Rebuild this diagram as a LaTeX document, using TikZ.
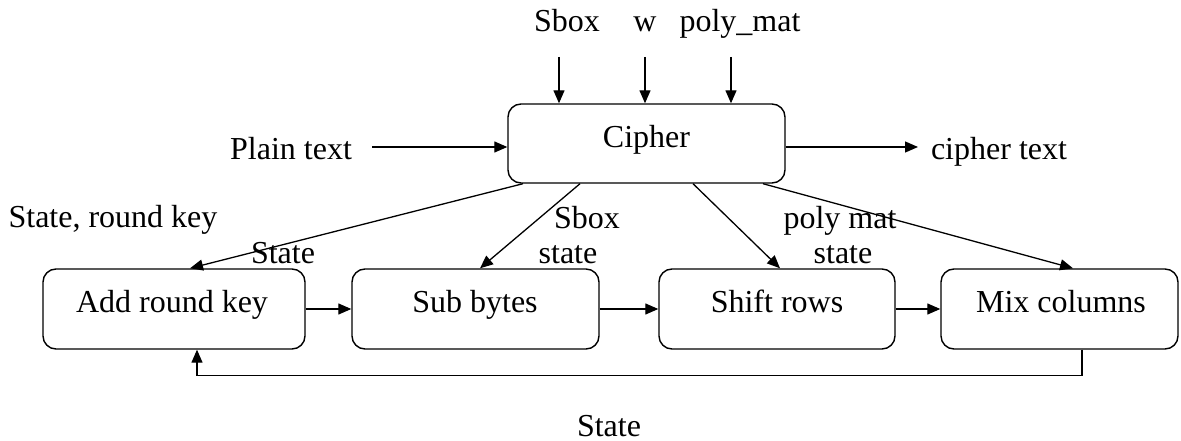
\documentclass[tikz,border=0pt]{standalone}
\usepackage{fontspec}
\setmainfont{Liberation Serif}
\usetikzlibrary{arrows.meta}
\begin{document}
\begin{tikzpicture}[x=1pt,y=-1pt,
  every node/.style={font=\fontsize{32}{36}\selectfont, inner sep=0pt},
  txt/.style={anchor=base},
  box/.style={draw, line width=1.4pt, rounded corners=13pt},
  arr/.style={line width=1.3pt, -{Triangle[length=13pt,width=11pt]}}]
\useasboundingbox (0,0) rectangle (1181,441);
% Cipher
\node[box, minimum width=277, minimum height=79] (cipher) at (646.5,143.5) {};
\node[txt] (ciphert) at (646.5,148) {Cipher};
% bottom boxes
\node[box, minimum width=262, minimum height=80] (add) at (174,309) {};
\node[txt] (addt) at (172,312) {Add round key};
\node[box, minimum width=247, minimum height=80] (sub) at (475.5,309) {};
\node[txt] (subt) at (475,312) {Sub bytes};
\node[box, minimum width=236, minimum height=80] (shift) at (777,309) {};
\node[txt] (shiftt) at (777,312) {Shift rows};
\node[box, minimum width=237, minimum height=80] (mix) at (1059.5,309) {};
\node[txt] (mixt) at (1061,312) {Mix columns};
% top inputs
\node[txt] (sbox) at (567,32) {Sbox};
\node[txt] (w) at (645,32) {w};
\node[txt] (poly) at (740,32) {poly\_mat};
\coordinate (s1) at (559,57);
\coordinate (s2) at (645,57);
\coordinate (s3) at (731,57);
\draw[arr] (s1) -- (s1 |- cipher.north);
\draw[arr] (s2) -- (s2 |- cipher.north);
\draw[arr] (s3) -- (s3 |- cipher.north);
% plain text / cipher text
\node[txt] (plain) at (291,160) {Plain text};
\coordinate (pa) at (372,147);
\draw[arr] (pa) -- (pa -| cipher.west);
\node[txt] (ctext) at (999,160) {cipher text};
\coordinate (ca) at (918,147);
\draw[arr] (ca -| cipher.east) -- (ca);
% cipher to boxes
\draw[arr] ([xshift=-123.5]cipher.south) -- ([xshift=16]add.north);
\draw[arr] ([xshift=-66.5]cipher.south) -- ([xshift=4.5]sub.north);
\draw[arr] ([xshift=46.5]cipher.south) -- ([xshift=3]shift.north);
\draw[arr] ([xshift=116.5]cipher.south) -- ([xshift=13.5]mix.north);
% chain
\draw[arr] (add.east) -- (sub.west);
\draw[arr] (sub.east) -- (shift.west);
\draw[arr] (shift.east) -- (mix.west);
% feedback
\draw[arr] ([xshift=22.5]mix.south) -- ++(0,26) -| ([xshift=23]add.south);
% labels
\node[txt] (l1) at (113,227) {State, round key};
\node[txt] (l2) at (283,263) {State};
\node[txt] (l3) at (587,228) {Sbox};
\node[txt] (l4) at (568,263) {state};
\node[txt] (l5) at (840,228) {poly mat};
\node[txt] (l6) at (843,263) {state};
\node[txt] (l7) at (609,436) {State};
\end{tikzpicture}
\end{document}
